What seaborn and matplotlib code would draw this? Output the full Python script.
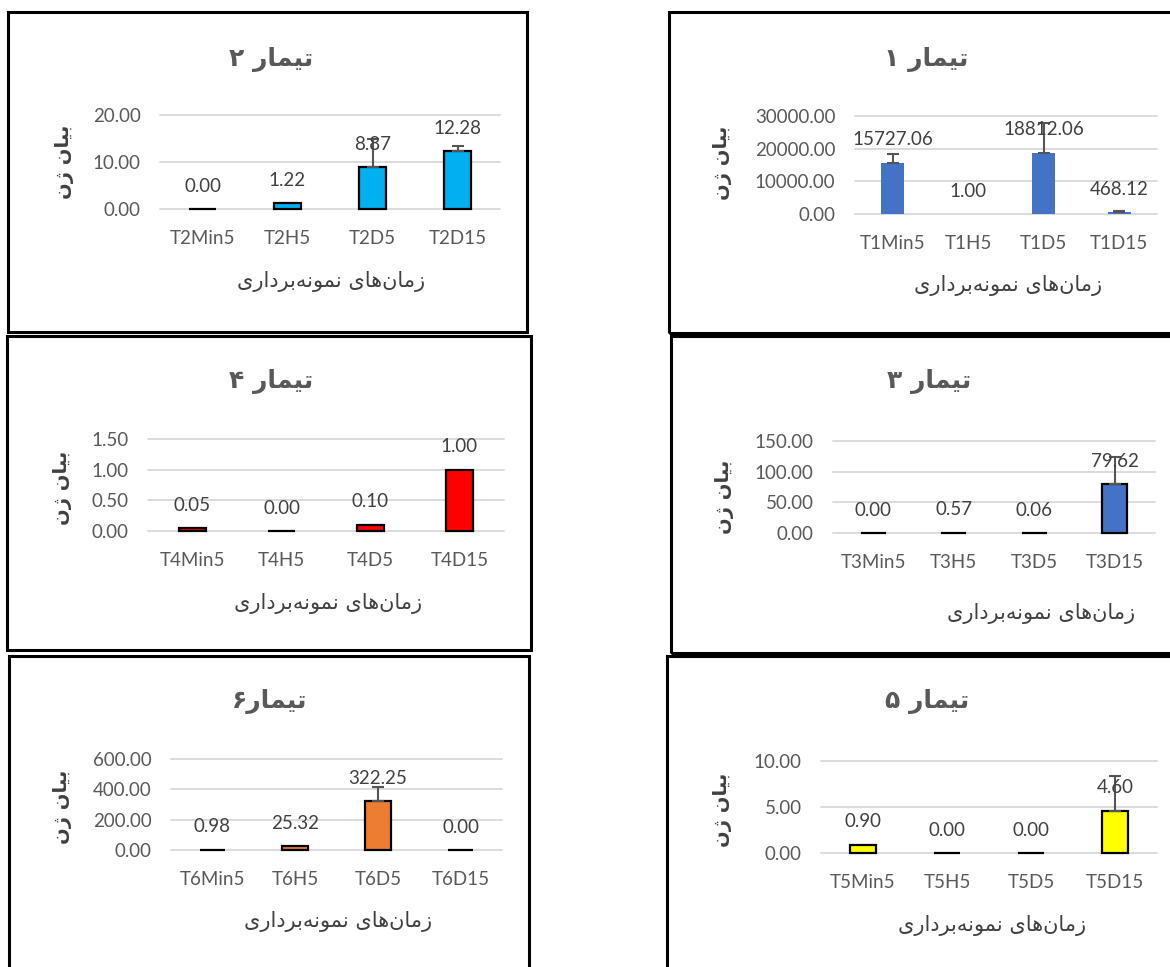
"""
Biểu đồ: 6 panel biểu hiện gen (بیان ژن) theo thời gian lấy mẫu cho 6 تیمار.
Mỗi panel là một biểu đồ cột kiểu Excel, có khung đen bao quanh.
"""

# === IMPORT ===
import matplotlib
matplotlib.use("Agg")
import matplotlib.pyplot as plt
import matplotlib.patches as mpatches
import seaborn as sns

# === DỮ LIỆU ===
CATS_T1 = ["T1Min5", "T1H5", "T1D5", "T1D15"]
VALS_T1 = [15727.06, 1.00, 18812.06, 468.12]
ERRS_T1 = [2750, 0, 8940, 550]

CATS_T2 = ["T2Min5", "T2H5", "T2D5", "T2D15"]
VALS_T2 = [0.00, 1.22, 8.87, 12.28]
ERRS_T2 = [0, 0, 6.0, 1.1]

CATS_T3 = ["T3Min5", "T3H5", "T3D5", "T3D15"]
VALS_T3 = [0.00, 0.57, 0.06, 79.62]
ERRS_T3 = [0, 0, 0, 45]

CATS_T4 = ["T4Min5", "T4H5", "T4D5", "T4D15"]
VALS_T4 = [0.05, 0.00, 0.10, 1.00]
ERRS_T4 = [0, 0, 0, 0]

CATS_T5 = ["T5Min5", "T5H5", "T5D5", "T5D15"]
VALS_T5 = [0.90, 0.00, 0.00, 4.60]
ERRS_T5 = [0, 0, 0, 3.8]

CATS_T6 = ["T6Min5", "T6H5", "T6D5", "T6D15"]
VALS_T6 = [0.98, 25.32, 322.25, 0.00]
ERRS_T6 = [0, 0, 91, 0]

TITLES = ["تیمار ۱", "تیمار ۲", "تیمار ۳", "تیمار ۴", "تیمار ۵", "تیمار۶"]
Y_MAX = [30000, 20, 150, 1.5, 10, 600]
Y_STEP = [10000, 10, 50, 0.5, 5, 200]
Y_LABEL = "بیان ژن"
X_LABEL = "زمان‌های نمونه‌برداری"

# === CẤU HÌNH HÌNH VẼ ===
W, H = 1170, 967
COLORS = ["#4472C4", "#00B0F0", "#4472C4", "#FF0000", "#FFFF00", "#ED7D31"]
EDGES = [False, True, True, True, True, True]

# vị trí (pixel): khung, vùng vẽ, tiêu đề, nhãn x, nhãn y
BOXES = [(669, 12, 1190, 333), (8, 12, 527, 332), (671, 336, 1190, 653),
         (7, 336, 531, 650), (667, 656, 1190, 990), (9, 656, 529, 990)]
AXES = [(855, 116, 1157, 214), (160, 115, 500, 209), (833, 441, 1155, 533),
        (148, 439, 504, 531), (821, 761, 1157, 853), (171, 759, 502, 850)]
TITLE_POS = [(926, 60), (271, 59), (929, 381), (271, 381), (927, 701), (270, 701)]
XLAB_POS = [(1008, 286), (331, 282), (1041, 614), (328, 604), (992, 926), (338, 922)]
YLAB_POS = [(723, 163), (65, 162), (725, 497), (62, 488), (723, 810), (62, 807)]

LATIN = ["Lato", "DejaVu Sans"]
ARABIC = ["DejaVu Sans"]

sns.set_style("white")
plt.rcParams["font.family"] = LATIN

# === ĐỊNH HÌNH CHỮ BA TƯ (matplotlib không tự nối chữ) ===
FORMS = {
    "ا": ("\uFE8D", "\uFE8E", None, None),
    "ب": ("\uFE8F", "\uFE90", "\uFE91", "\uFE92"),
    "ت": ("\uFE95", "\uFE96", "\uFE97", "\uFE98"),
    "د": ("\uFEA9", "\uFEAA", None, None),
    "ر": ("\uFEAD", "\uFEAE", None, None),
    "ز": ("\uFEAF", "\uFEB0", None, None),
    "ژ": ("\uFB8A", "\uFB8B", None, None),
    "م": ("\uFEE1", "\uFEE2", "\uFEE3", "\uFEE4"),
    "ن": ("\uFEE5", "\uFEE6", "\uFEE7", "\uFEE8"),
    "ه": ("\uFEE9", "\uFEEA", "\uFEEB", "\uFEEC"),
    "و": ("\uFEED", "\uFEEE", None, None),
    "ی": ("\uFBFC", "\uFBFD", "\uFBFE", "\uFBFF"),
}


def shape_fa(text):
    """Chọn dạng chữ theo ngữ cảnh rồi đảo thứ tự (RTL -> LTR hiển thị)."""
    out = []
    for i, ch in enumerate(text):
        if ch not in FORMS:
            if ch != "\u200c":
                out.append(ch)
            continue
        iso, fin, ini, med = FORMS[ch]
        prev = text[i - 1] if i > 0 else ""
        nxt = text[i + 1] if i + 1 < len(text) else ""
        join_prev = prev in FORMS and FORMS[prev][2] is not None
        join_next = ini is not None and nxt in FORMS
        if join_prev and join_next:
            out.append(med)
        elif join_prev:
            out.append(fin)
        elif join_next:
            out.append(ini)
        else:
            out.append(iso)
    return "".join(reversed(out))


def fx(x):
    return x / W


def fy(y):
    return 1 - y / H


def draw_panel(fig, k, cats, vals, errs):
    l, t, r, b = AXES[k]
    ax = fig.add_axes([fx(l), fy(b), fx(r) - fx(l), fy(t) - fy(b)])

    sns.barplot(x=cats, y=vals, color=COLORS[k], saturation=1, width=0.31,
                edgecolor="black" if EDGES[k] else "none",
                linewidth=1.6 if EDGES[k] else 0, errorbar=None, ax=ax)
    for p in ax.patches:
        p.set_clip_on(False)

    # thanh sai số chỉ về phía trên
    for i, (v, e) in enumerate(zip(vals, errs)):
        if e > 0:
            ax.errorbar(i, v, yerr=[[0], [e]], color="#555555", lw=1.5,
                        capsize=4, capthick=1.5, zorder=4, clip_on=False)
        ax.annotate(f"{v:.2f}", (i, v), xytext=(0, 16.5),
                    textcoords="offset points", ha="center", va="center",
                    fontsize=13.5, color="#404040", zorder=5)

    top = Y_MAX[k]
    step = Y_STEP[k]
    ticks = [step * j for j in range(int(round(top / step)) + 1)]
    ax.set_ylim(0, top)
    ax.set_yticks(ticks)
    ax.set_yticklabels([f"{t_:.2f}" for t_ in ticks])
    ax.set_xlim(-0.5, 3.5)
    ax.yaxis.grid(True, color="#D9D9D9", lw=1.3)
    ax.set_axisbelow(True)
    for gl in ax.get_ygridlines():
        gl.set_clip_on(False)
    sns.despine(ax=ax, left=True, bottom=True)
    ax.tick_params(axis="both", length=0, labelsize=13.5, colors="#595959")
    ax.tick_params(axis="y", pad=14)
    ax.tick_params(axis="x", pad=15)
    ax.set_xlabel("")
    ax.set_ylabel("")

    # tiêu đề, nhãn trục (chữ Ba Tư)
    tx, ty = TITLE_POS[k]
    fig.text(fx(tx), fy(ty), shape_fa(TITLES[k]), ha="center", va="center",
             fontsize=18, fontweight="bold", color="#595959", family=ARABIC)
    xx, xy = XLAB_POS[k]
    fig.text(fx(xx), fy(xy), shape_fa(X_LABEL), ha="center", va="center",
             fontsize=15, color="#404040", family=ARABIC)
    yx, yy = YLAB_POS[k]
    fig.text(fx(yx), fy(yy), shape_fa(Y_LABEL), ha="center", va="center",
             rotation=90, fontsize=14, fontweight="bold", color="#404040",
             family=ARABIC)

    # khung đen
    bl, bt, br, bb = BOXES[k]
    fig.patches.append(mpatches.Rectangle(
        (fx(bl), fy(bb)), fx(br) - fx(bl), fy(bt) - fy(bb),
        transform=fig.transFigure, fill=False, edgecolor="black", lw=2.2))
    return ax


if __name__ == "__main__":
    fig = plt.figure(figsize=(W / 100, H / 100), dpi=100)
    panels = [
        (CATS_T1, VALS_T1, ERRS_T1),
        (CATS_T2, VALS_T2, ERRS_T2),
        (CATS_T3, VALS_T3, ERRS_T3),
        (CATS_T4, VALS_T4, ERRS_T4),
        (CATS_T5, VALS_T5, ERRS_T5),
        (CATS_T6, VALS_T6, ERRS_T6),
    ]
    for k, (c, v, e) in enumerate(panels):
        draw_panel(fig, k, c, v, e)
    fig.savefig("out.png", dpi=100, facecolor="white")
